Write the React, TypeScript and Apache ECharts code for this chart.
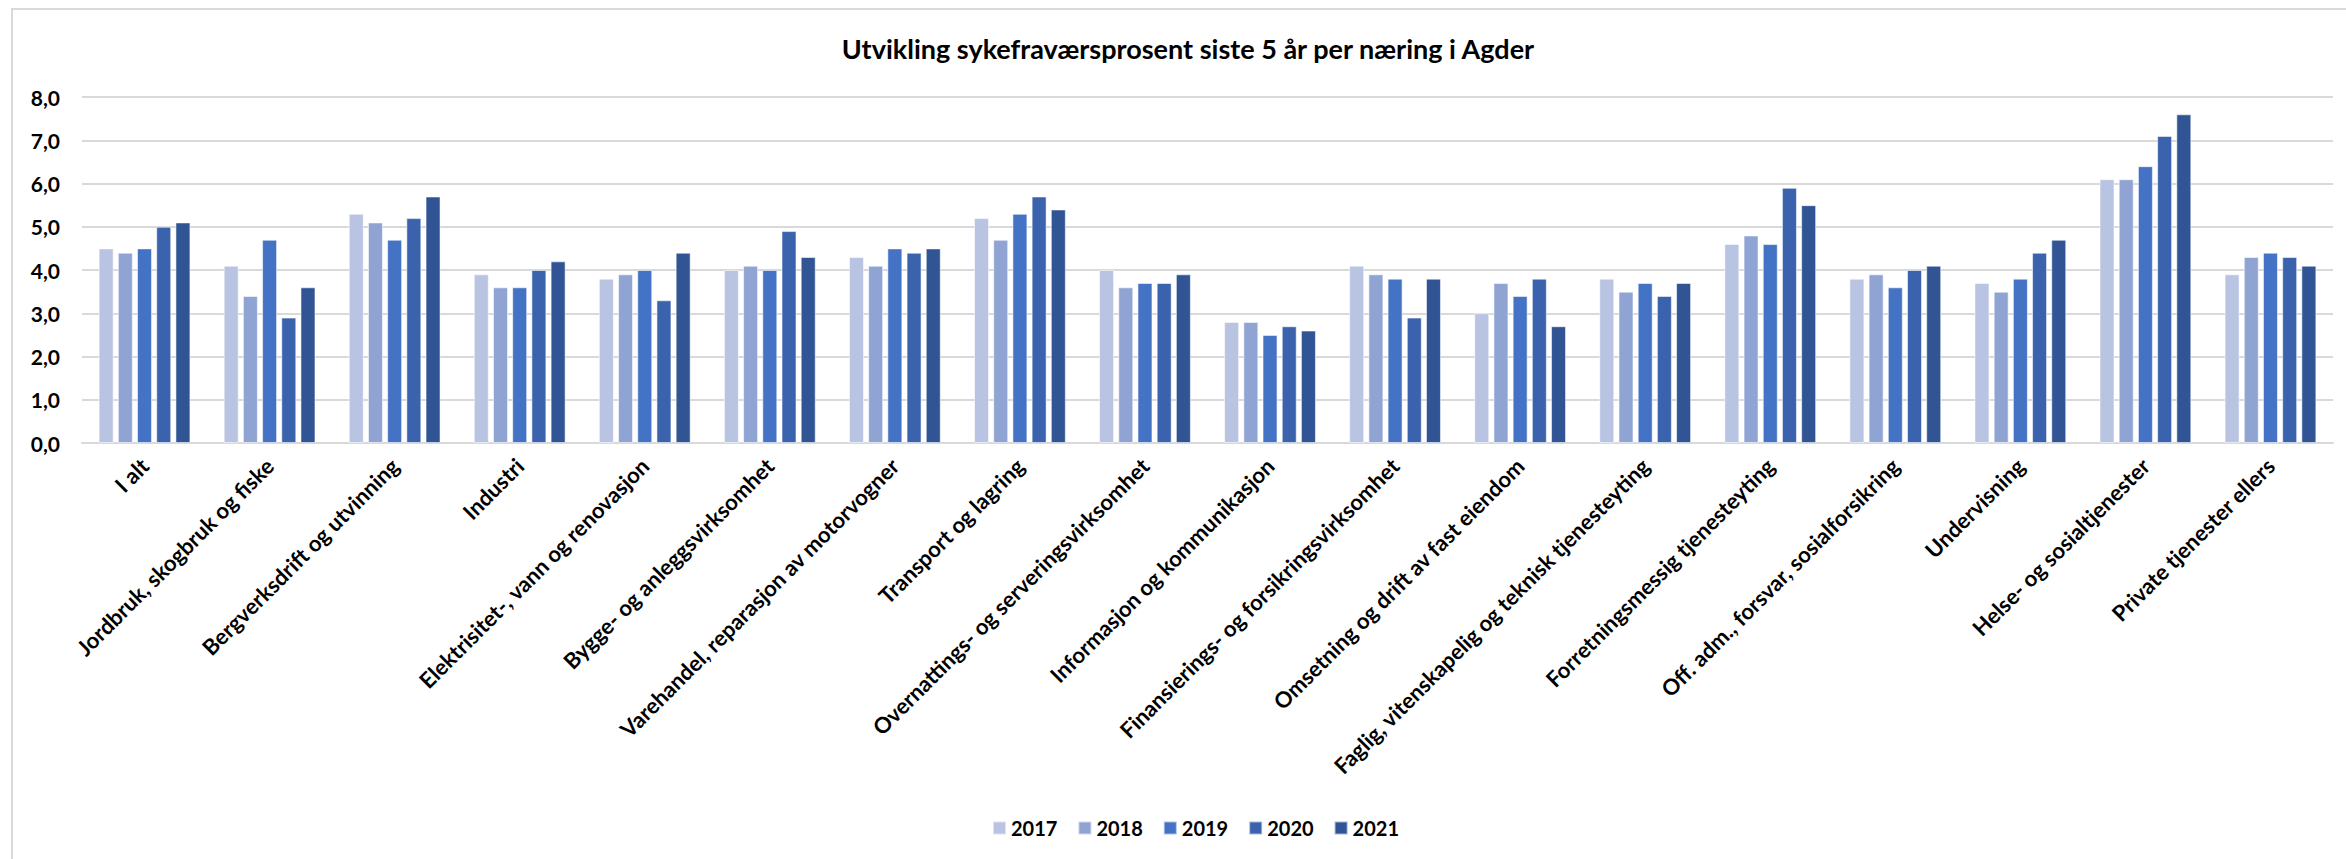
import React, { useEffect, useRef } from "react";
import * as echarts from "echarts";

const categories = [
  "I alt",
  "Jordbruk, skogbruk og fiske",
  "Bergverksdrift og utvinning",
  "Industri",
  "Elektrisitet-, vann og renovasjon",
  "Bygge- og anleggsvirksomhet",
  "Varehandel, reparasjon av motorvogner",
  "Transport og lagring",
  "Overnattings- og serveringsvirksomhet",
  "Informasjon og kommunikasjon",
  "Finansierings- og forsikringsvirksomhet",
  "Omsetning og drift av fast eiendom",
  "Faglig, vitenskapelig og teknisk tjenesteyting",
  "Forretningsmessig tjenesteyting",
  "Off. adm., forsvar, sosialforsikring",
  "Undervisning",
  "Helse- og sosialtjenester",
  "Private tjenester ellers",
];

const years = ["2017", "2018", "2019", "2020", "2021"];

const v2017 = [4.5, 4.1, 5.3, 3.9, 3.8, 4.0, 4.3, 5.2, 4.0, 2.8, 4.1, 3.0, 3.8, 4.6, 3.8, 3.7, 6.1, 3.9];
const v2018 = [4.4, 3.4, 5.1, 3.6, 3.9, 4.1, 4.1, 4.7, 3.6, 2.8, 3.9, 3.7, 3.5, 4.8, 3.9, 3.5, 6.1, 4.3];
const v2019 = [4.5, 4.7, 4.7, 3.6, 4.0, 4.0, 4.5, 5.3, 3.7, 2.5, 3.8, 3.4, 3.7, 4.6, 3.6, 3.8, 6.4, 4.4];
const v2020 = [5.0, 2.9, 5.2, 4.0, 3.3, 4.9, 4.4, 5.7, 3.7, 2.7, 2.9, 3.8, 3.4, 5.9, 4.0, 4.4, 7.1, 4.3];
const v2021 = [5.1, 3.6, 5.7, 4.2, 4.4, 4.3, 4.5, 5.4, 3.9, 2.6, 3.8, 2.7, 3.7, 5.5, 4.1, 4.7, 7.6, 4.1];

const seriesValues = [v2017, v2018, v2019, v2020, v2021];
const colors = ["#B9C3E2", "#90A4D4", "#4472C4", "#3B63AD", "#305494"];

const yTickLabels = ["0,0", "1,0", "2,0", "3,0", "4,0", "5,0", "6,0", "7,0", "8,0"];

const titleText = "Utvikling sykefraværsprosent siste 5 år per næring i Agder";

const FONT = "Lato, 'Noto Sans', sans-serif";

export default function App() {
  const ref = useRef<HTMLDivElement>(null);

  useEffect(() => {
    if (!ref.current) return;
    const chart = echarts.init(ref.current, undefined, { renderer: "svg" });
    chart.setOption({
      animation: false,
      backgroundColor: "#ffffff",
      textStyle: { fontFamily: FONT },
      graphic: [
        {
          type: "rect",
          shape: { x: 12, y: 9, width: 2500, height: 1000 },
          style: { fill: "none", stroke: "#D9D9D9", lineWidth: 2 },
          silent: true,
        },
        {
          type: "text",
          x: 1188,
          y: 48,
          style: {
            text: titleText,
            fill: "#000000",
            font: `bold 27px ${FONT}`,
            textAlign: "center",
            textVerticalAlign: "middle",
          },
        },
      ],
      legend: {
        data: years,
        left: 987,
        top: 813,
        icon: "rect",
        itemWidth: 13,
        itemHeight: 13,
        itemGap: 20,
        textStyle: { fontSize: 20, fontWeight: "bold", color: "#000000", fontFamily: FONT },
      },
      grid: { left: 82, right: 13, top: 97, bottom: 416, containLabel: false },
      xAxis: {
        type: "category",
        data: categories,
        axisTick: { show: false },
        axisLine: { show: true, lineStyle: { color: "#D9D9D9", width: 2 } },
        axisLabel: {
          interval: 0,
          rotate: 45,
          margin: 19,
          fontSize: 22,
          fontWeight: "bold",
          color: "#000000",
          fontFamily: FONT,
        },
      },
      yAxis: {
        type: "value",
        min: 0,
        max: 8,
        interval: 1,
        axisLine: { show: false },
        axisTick: { show: false },
        splitLine: { lineStyle: { color: "#D9D9D9", width: 2 } },
        axisLabel: {
          margin: 22,
          fontSize: 21,
          fontWeight: "bold",
          color: "#000000",
          fontFamily: FONT,
          formatter: (v: number) => yTickLabels[Math.round(v)] ?? String(v),
        },
      },
      series: years.map((y, i) => ({
        name: y,
        type: "bar",
        data: seriesValues[i],
        barWidth: 15,
        barGap: "28%",
        itemStyle: {
          color: colors[i],
          borderColor: "rgba(255,255,255,0.55)",
          borderWidth: 1,
        },
      })),
    });
    return () => chart.dispose();
  }, []);

  return (
    <div
      ref={ref}
      style={{ position: "absolute", left: 0, top: 0, width: 2346, height: 859 }}
    />
  );
}
